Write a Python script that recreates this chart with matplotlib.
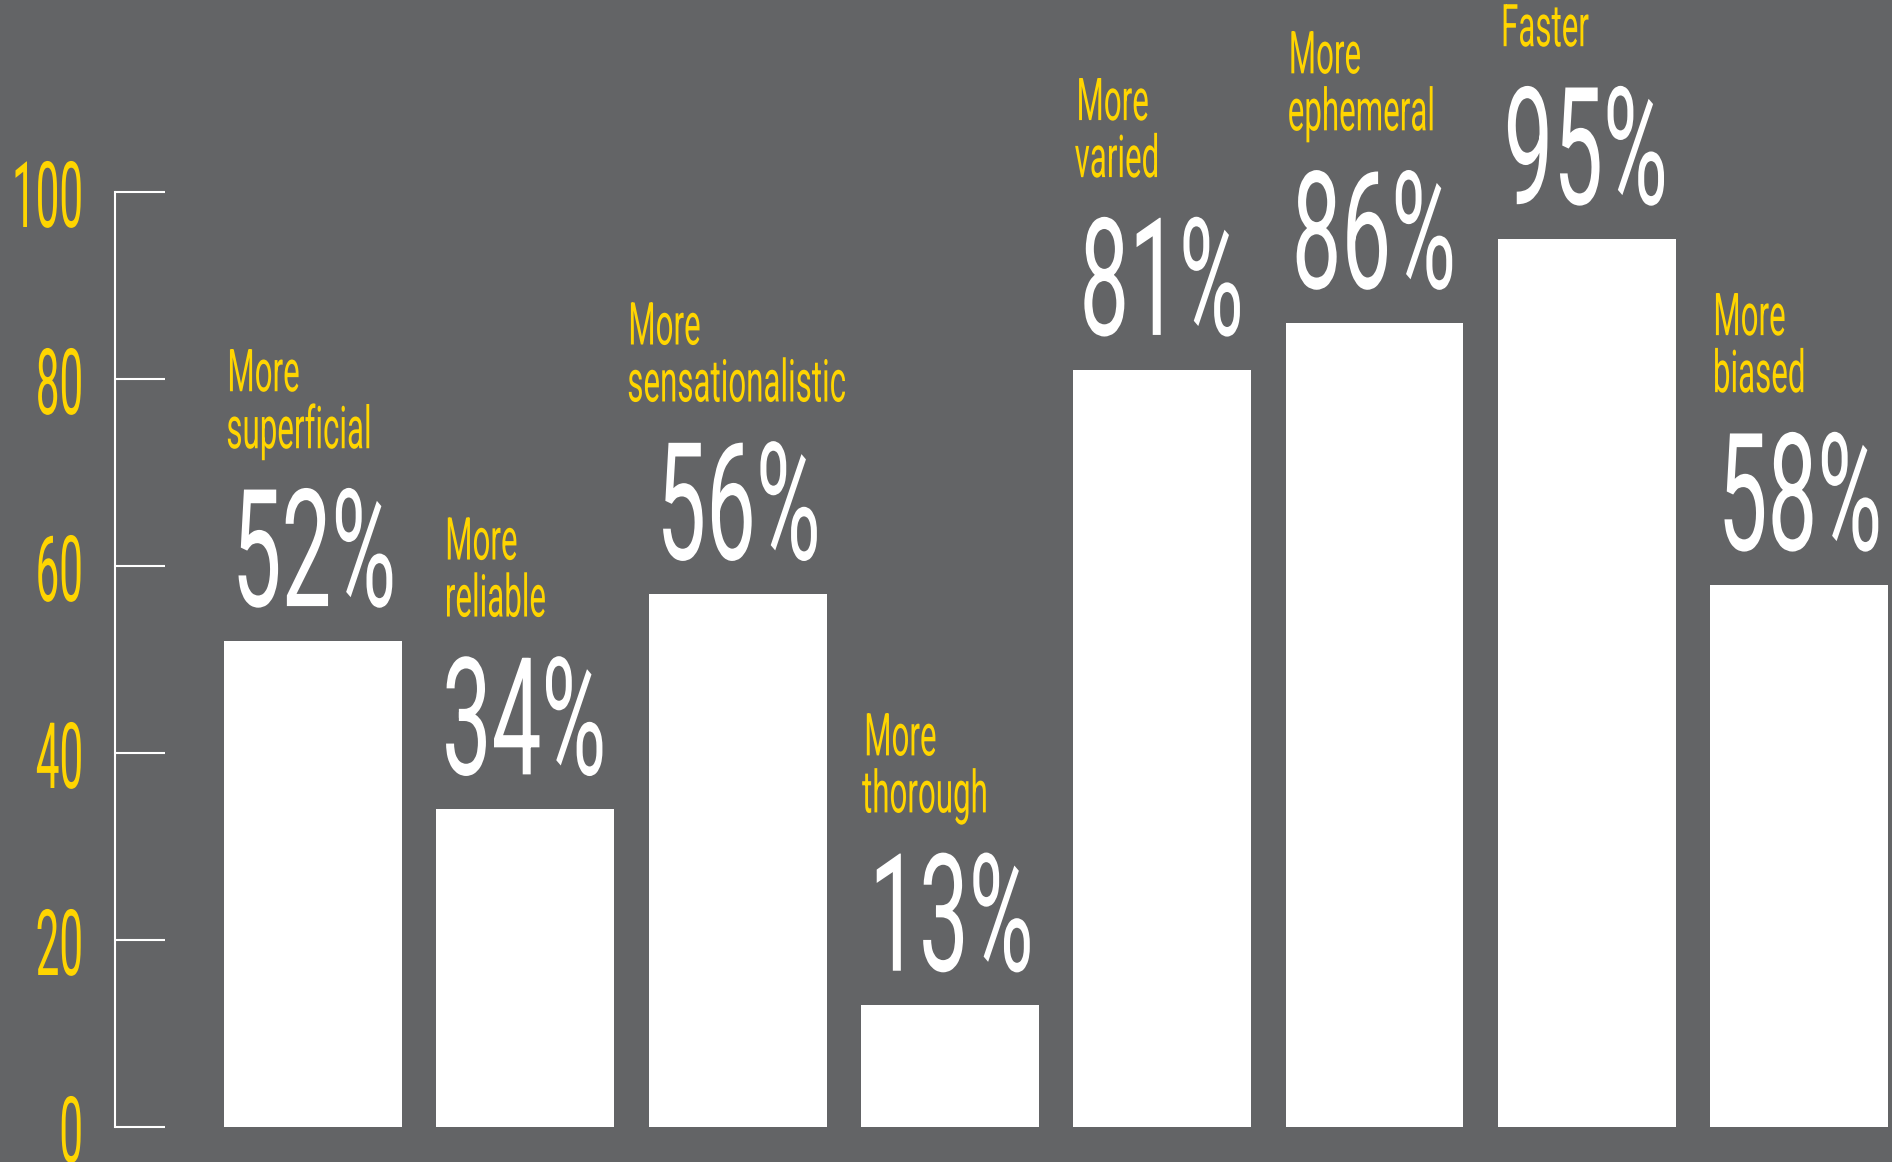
import matplotlib
matplotlib.use('Agg')
import matplotlib.pyplot as plt
from matplotlib.patheffects import AbstractPathEffect
from matplotlib.transforms import Affine2D

# data (bar 3 is drawn at 57 but labelled 56%)
categories = ['More\nsuperficial', 'More\nreliable', 'More\nsensationalistic',
              'More\nthorough', 'More\nvaried', 'More\nephemeral', 'Faster',
              'More\nbiased']
values = [52, 34, 57, 13, 81, 86, 95, 58]
pct_labels = ['52%', '34%', '56%', '13%', '81%', '86%', '95%', '58%']
y_ticks = [0, 20, 40, 60, 80, 100]

BG = '#636466'
YELLOW = '#FFD500'
WHITE = '#FFFFFF'
FONT = 'Roboto'

# small horizontal nudges of the category labels (points)
cat_dx = [0, 4, -17, 0, 0, 0, 0, 0]


class Squeeze(AbstractPathEffect):
    """draw text horizontally compressed (condensed look)"""

    def __init__(self, sx=0.5, anchor='left'):
        super().__init__()
        self.sx = sx
        self.anchor = anchor

    def draw_path(self, renderer, gc, tpath, affine, rgbFace=None):
        ext = tpath.get_extents()
        x0 = ext.x0 if self.anchor == 'left' else ext.x1
        t = Affine2D().translate(-x0, 0).scale(self.sx, 1).translate(x0, 0) + affine
        renderer.draw_path(gc, tpath, t, rgbFace)


W, H = 1892, 1162
fig = plt.figure(figsize=(W / 100, H / 100), dpi=100, facecolor=BG)

# axes placed in pixels: spine at x=115, value 0 at y=1127, 100 at y=192
ax = fig.add_axes([115 / W, (H - 1127) / H, (W - 115) / W, (1127 - 192) / H])
ax.set_facecolor(BG)

x = list(range(len(values)))
bar_w = 0.838
ax.bar(x, values, width=bar_w, color=WHITE, linewidth=0, zorder=2)

ax.set_xlim(-0.933, 7.438)
ax.set_ylim(0, 100)

for s in ['top', 'right', 'bottom']:
    ax.spines[s].set_visible(False)
ax.spines['left'].set_color(WHITE)
ax.spines['left'].set_linewidth(1.5)

ax.set_xticks([])
ax.set_yticks(y_ticks)
ax.set_yticklabels([str(t) for t in y_ticks])
ax.tick_params(axis='y', direction='in', length=36, width=1.5, color=WHITE,
               pad=21, labelcolor=YELLOW, labelsize=66)
for lab in ax.get_yticklabels():
    lab.set_fontfamily(FONT)
    lab.set_path_effects([Squeeze(0.46, 'right')])

# labels above bars
for xi, v, cat, pct, dx in zip(x, values, categories, pct_labels, cat_dx):
    left = xi - bar_w / 2
    ax.annotate(pct, xy=(left, v), xytext=(1.5, 25), textcoords='offset points',
                ha='left', va='baseline', color=WHITE, fontsize=118,
                fontfamily=FONT, path_effects=[Squeeze(0.54, 'left')],
                annotation_clip=False)
    ax.annotate(cat, xy=(left, v), xytext=(0.7 + dx, 130), textcoords='offset points',
                ha='left', va='bottom', color=YELLOW, fontsize=42.5,
                fontfamily=FONT, linespacing=1.0,
                path_effects=[Squeeze(0.53, 'left')],
                annotation_clip=False)

fig.savefig('out.png', dpi=100, facecolor=BG)
